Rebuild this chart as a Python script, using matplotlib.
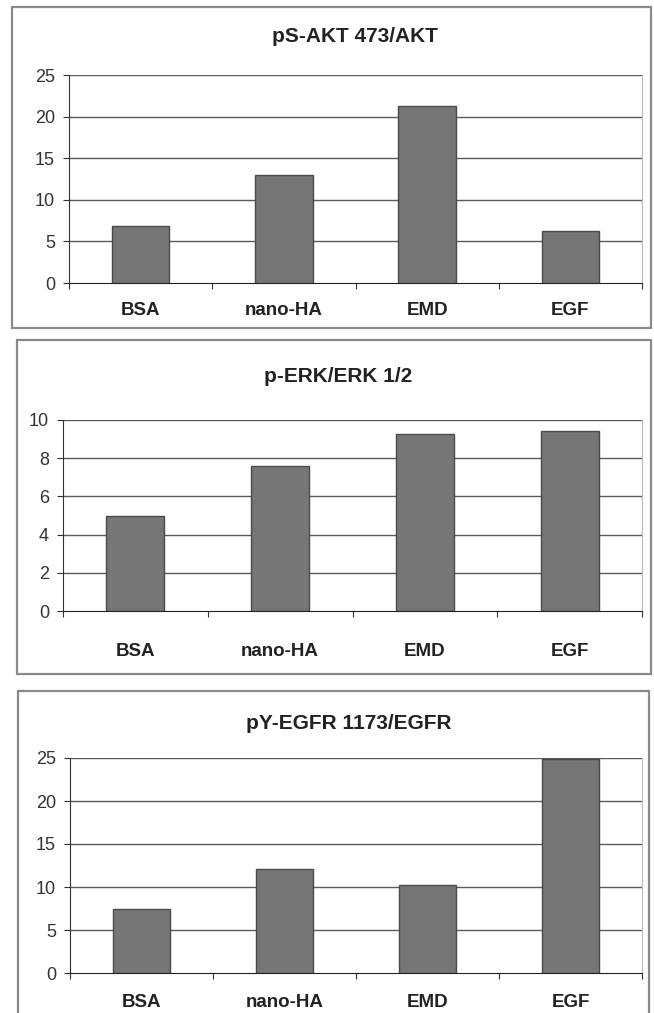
import matplotlib.pyplot as plt
from matplotlib.patches import Rectangle

categories = ["BSA", "nano-HA", "EMD", "EGF"]

akt_values = [6.9, 13.0, 21.3, 6.2]
erk_values = [5.0, 7.6, 9.25, 9.4]
egfr_values = [7.5, 12.1, 10.2, 24.9]

titles = ["pS-AKT 473/AKT", "p-ERK/ERK 1/2", "pY-EGFR 1173/EGFR"]
y_ticks = [[0, 5, 10, 15, 20, 25], [0, 2, 4, 6, 8, 10], [0, 5, 10, 15, 20, 25]]

W, H = 654, 1013

plt.rcParams["font.family"] = ["Liberation Sans", "DejaVu Sans"]

fig = plt.figure(figsize=(W / 100, H / 100), dpi=100)
fig.patch.set_facecolor("white")

# pixel boxes: (plot l, r, t, b), (border l, r, t, b), (title x, title y), label pad
panels = [
    ((69, 642, 75, 283), (12, 651, 7, 328), (355, 37), 14),
    ((63, 642, 420, 611), (17, 651, 340, 674), (338, 376), 23),
    ((70, 642, 758, 973), (18, 649, 691, 1030), (349, 723), 15),
]


def fx(x):
    return x / W


def fy(y):
    return 1 - y / H


def draw_panel(box, border, title_xy, label_pad, values, title, ticks):
    l, r, t, b = box
    ax = fig.add_axes([fx(l), fy(b), fx(r) - fx(l), fy(t) - fy(b)])
    x = range(len(categories))
    ax.bar(x, values, width=0.4, color="#767676", edgecolor="#4a4a4a", linewidth=1.0, zorder=3)
    ax.set_xlim(-0.5, len(categories) - 0.5)
    ax.set_ylim(ticks[0], ticks[-1])
    ax.set_yticks(ticks)
    ax.set_yticklabels([str(v) for v in ticks], fontsize=13, color="#333333")
    for v in ticks[1:]:
        ax.axhline(v, color="#5a5a5a", linewidth=1.0, zorder=1)
    ax.set_xticks([i + 0.5 for i in range(-1, len(categories))], minor=False)
    ax.set_xticklabels([""] * (len(categories) + 1))
    ax.set_xticks(list(x), minor=True)
    ax.set_xticklabels(categories, minor=True, fontsize=13.5, fontweight="bold", color="#222222")
    ax.tick_params(axis="x", which="minor", length=0, pad=label_pad)
    ax.tick_params(axis="x", which="major", length=4, direction="out", color="#333333")
    ax.tick_params(axis="y", length=4, direction="out", color="#333333", pad=6)
    ax.spines["left"].set_color("#333333")
    ax.spines["bottom"].set_color("#222222")
    ax.spines["top"].set_visible(False)
    ax.spines["right"].set_color("#bbbbbb")
    ax.spines["right"].set_linewidth(0.8)

    bl, br, bt, bb = border
    fig.patches.append(Rectangle((fx(bl), fy(bb)), fx(br) - fx(bl), fy(bt) - fy(bb),
                                 transform=fig.transFigure, fill=False,
                                 edgecolor="#8a8a8a", linewidth=1.6))
    fig.text(fx(title_xy[0]), fy(title_xy[1]), title, ha="center", va="center",
             fontsize=15, fontweight="bold", color="#222222")


all_values = [akt_values, erk_values, egfr_values]
for (box, border, txy, pad), vals, title, ticks in zip(panels, all_values, titles, y_ticks):
    draw_panel(box, border, txy, pad, vals, title, ticks)

fig.savefig("out.png", dpi=100, facecolor="white")
